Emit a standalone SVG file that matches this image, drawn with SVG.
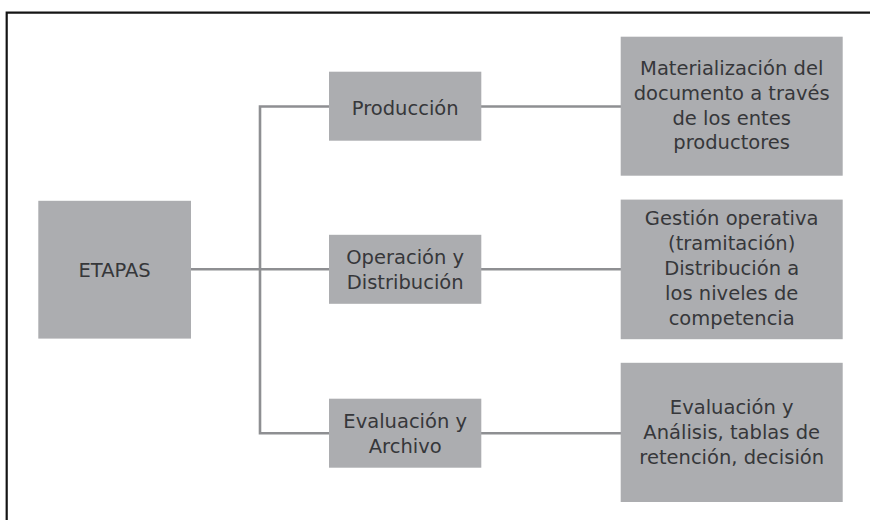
<svg xmlns="http://www.w3.org/2000/svg" width="870" height="520" viewBox="0 0 870 520">
<style>
.box{fill:#acadb0;}
.lbl{font-family:"DejaVu Sans","Liberation Sans",sans-serif;font-size:19.5px;fill:#36373a;text-anchor:middle;}
.conn{stroke:#8e8f92;stroke-width:2.6;fill:none;}
</style>
<rect width="870" height="520" fill="#ffffff"/>
<path d="M6.7,520 V12.7 H870" fill="none" stroke="#141414" stroke-width="2.2"/>
<g id="connectors">
<line class="conn" x1="191" y1="269.3" x2="329" y2="269.3"/>
<path class="conn" d="M329,106.5 H260 V433.3 H329"/>
<line class="conn" x1="481" y1="106.5" x2="621" y2="106.5"/>
<line class="conn" x1="481" y1="269.3" x2="621" y2="269.3"/>
<line class="conn" x1="481" y1="433.3" x2="621" y2="433.3"/>
</g>
<g id="etapas">
<rect class="box" x="38.3" y="200.8" width="152.7" height="137.8"/>
<text class="lbl" x="114.6" y="277">ETAPAS</text>
</g>
<g id="produccion">
<rect class="box" x="329" y="71.7" width="152.3" height="69"/>
<text class="lbl" x="405.2" y="115">Producción</text>
</g>
<g id="operacion">
<rect class="box" x="329" y="234.8" width="152.3" height="69"/>
<text class="lbl" x="405.2" y="264">Operación y</text>
<text class="lbl" x="405.2" y="289">Distribución</text>
</g>
<g id="evaluacion">
<rect class="box" x="329" y="398.7" width="152.3" height="69"/>
<text class="lbl" x="405.2" y="427.7">Evaluación y</text>
<text class="lbl" x="405.2" y="452.7">Archivo</text>
</g>
<g id="materializacion">
<rect class="box" x="620.7" y="36.7" width="222" height="139"/>
<text class="lbl" x="731.7" y="75">Materialización del</text>
<text class="lbl" x="731.7" y="100">documento a través</text>
<text class="lbl" x="731.7" y="124.5">de los entes</text>
<text class="lbl" x="731.7" y="149">productores</text>
</g>
<g id="gestion">
<rect class="box" x="620.7" y="199.6" width="222" height="139.6"/>
<text class="lbl" x="731.7" y="225">Gestión operativa</text>
<text class="lbl" x="731.7" y="250">(tramitación)</text>
<text class="lbl" x="731.7" y="275">Distribución a</text>
<text class="lbl" x="731.7" y="300">los niveles de</text>
<text class="lbl" x="731.7" y="325">competencia</text>
</g>
<g id="analisis">
<rect class="box" x="620.7" y="362.8" width="222" height="139.2"/>
<text class="lbl" x="731.7" y="413.5">Evaluación y</text>
<text class="lbl" x="731.7" y="438.5">Análisis, tablas de</text>
<text class="lbl" x="731.7" y="463.5">retención, decisión</text>
</g>
</svg>
